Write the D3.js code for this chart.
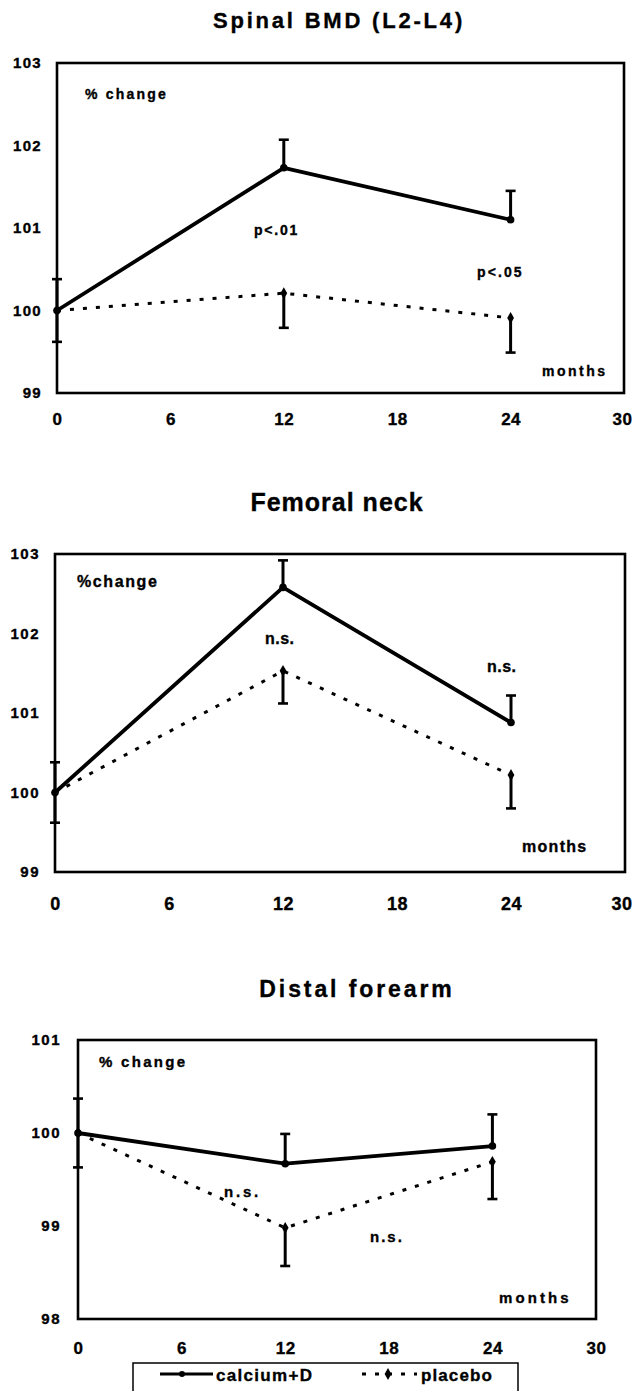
<!DOCTYPE html>
<html><head><meta charset="utf-8">
<script src="https://cdn.jsdelivr.net/npm/d3@7/dist/d3.min.js"></script>
<style>
html,body{margin:0;padding:0;background:#fff;}
svg{display:block;}
text{font-family:"Liberation Sans",Arial,sans-serif;font-weight:bold;fill:#000;stroke:#000;stroke-width:0.35px;}
</style></head>
<body>
<svg id="c" width="634" height="1391"></svg>
<script>
// ---- data ----
const months = [0, 12, 24];
const xTicks = [0, 6, 12, 18, 24, 30];
const yTicksSpine = [99, 100, 101, 102, 103];
const yTicksFemur = [99, 100, 101, 102, 103];
const yTicksForearm = [98, 99, 100, 101];

const spineCalcium = [100, 101.73, 101.10];
const spineCalciumSE = [0.38, 0.34, 0.35];
const spinePlacebo = [100, 100.21, 99.91];
const spinePlaceboSE = [0.38, 0.42, 0.42];

const femurCalcium = [100, 102.58, 100.88];
const femurCalciumSE = [0.38, 0.34, 0.34];
const femurPlacebo = [100, 101.53, 100.22];
const femurPlaceboSE = [0.38, 0.41, 0.42];

const forearmCalcium = [100, 99.67, 99.86];
const forearmCalciumSE = [0.37, 0.32, 0.34];
const forearmPlacebo = [100, 98.98, 99.69];
const forearmPlaceboSE = [0.37, 0.41, 0.40];

const seriesNames = ["calcium+D", "placebo"];

// ---- layout ----
const charts = [
  {title:"Spinal BMD (L2-L4)", titleX:339, titleY:28, titleSize:22, titleLS:2.8,
   left:57, right:624, top:63, bottom:393, yDomain:[99,103], yTicks:yTicksSpine,
   yLabSize:15, yLabLS:1.3, yLabGap:15, xLabY:425, xLabSize:17,
   calcium:spineCalcium, calciumSE:spineCalciumSE, placebo:spinePlacebo, placeboSE:spinePlaceboSE,
   notes:[{t:"% change", x:85, y:99, s:14, ls:2.2},
          {t:"p<.01", x:254, y:235, s:14, ls:1.8},
          {t:"p<.05", x:477, y:277, s:14, ls:2.1},
          {t:"months", x:542, y:376, s:14, ls:2.5}]},
  {title:"Femoral neck", titleX:337, titleY:511, titleSize:25, titleLS:1,
   left:55, right:625, top:554, bottom:872, yDomain:[99,103], yTicks:yTicksFemur,
   yLabSize:15, yLabLS:1.5, yLabGap:15, xLabY:910, xLabSize:18,
   calcium:femurCalcium, calciumSE:femurCalciumSE, placebo:femurPlacebo, placeboSE:femurPlaceboSE,
   notes:[{t:"%change", x:77, y:587, s:16, ls:1.6},
          {t:"n.s.", x:265, y:644, s:16, ls:0.5},
          {t:"n.s.", x:487, y:672, s:16, ls:0.5},
          {t:"months", x:522, y:852, s:16, ls:1.3}]},
  {title:"Distal forearm", titleX:357, titleY:997, titleSize:23, titleLS:2.9,
   left:78, right:596, top:1040, bottom:1319, yDomain:[98,101], yTicks:yTicksForearm,
   yLabSize:15, yLabLS:1.5, yLabGap:17, xLabY:1354, xLabSize:17,
   calcium:forearmCalcium, calciumSE:forearmCalciumSE, placebo:forearmPlacebo, placeboSE:forearmPlaceboSE,
   notes:[{t:"% change", x:99, y:1067, s:15, ls:2.3},
          {t:"n.s.", x:224, y:1197, s:15, ls:2.8},
          {t:"n.s.", x:370, y:1242, s:15, ls:2},
          {t:"months", x:499, y:1303, s:15, ls:3.1}]}
];

const svg = d3.select("#c");
const W = 634;
const FF = '"Liberation Sans",Arial,sans-serif';

charts.forEach(c => {
  const x = d3.scaleLinear().domain([0, 30]).range([c.left, c.right]);
  const y = d3.scaleLinear().domain(c.yDomain).range([c.bottom, c.top]);
  const g = svg.append("g");

  // title
  g.append("text").attr("x", c.titleX).attr("y", c.titleY)
    .attr("text-anchor", "middle").style("font-size", c.titleSize + "px")
    .style("letter-spacing", c.titleLS + "px").text(c.title);

  // y axis labels (no tick lines)
  const yAxis = d3.axisLeft(y).tickValues(c.yTicks).tickSize(0).tickPadding(c.yLabGap).tickFormat(d3.format("d"));
  const ya = g.append("g").attr("transform", `translate(${c.left},0)`).call(yAxis);
  ya.select(".domain").remove();
  ya.attr("font-family", null).attr("font-size", null);
  ya.selectAll("text").style("font-size", c.yLabSize + "px").style("letter-spacing", c.yLabLS + "px")
    .style("font-family", FF).attr("fill", null);

  // x axis labels
  const xAxis = d3.axisBottom(x).tickValues(xTicks).tickSize(0).tickPadding(0).tickFormat(d3.format("d"));
  const xa = g.append("g").attr("transform", `translate(0,${c.xLabY})`).call(xAxis);
  xa.select(".domain").remove();
  xa.attr("font-family", null).attr("font-size", null);
  xa.selectAll("text").attr("dy", 0).attr("y", 0).style("font-size", c.xLabSize + "px")
    .style("letter-spacing", "0.5px").style("font-family", FF).attr("fill", null);
  // keep labels inside the page
  xa.selectAll(".tick").each(function (d) {
    const t = d3.select(this).select("text");
    const bb = t.node().getBBox();
    const right = x(d) + bb.x + bb.width;
    if (right > W - 2) t.attr("x", (W - 2) - right);
  });

  // plot frame
  g.append("rect").attr("x", x(0)).attr("y", y(c.yDomain[1]))
    .attr("width", x(30) - x(0)).attr("height", y(c.yDomain[0]) - y(c.yDomain[1]))
    .attr("fill", "none").attr("stroke", "#000").attr("stroke-width", 2.6);

  const line = d3.line().x((d, i) => x(months[i])).y(d => y(d));

  // placebo dotted line
  g.append("path").datum(c.placebo).attr("d", line).attr("fill", "none")
    .attr("stroke", "#000").attr("stroke-width", 3).attr("stroke-dasharray", "4,9");
  // calcium solid line
  g.append("path").datum(c.calcium).attr("d", line).attr("fill", "none")
    .attr("stroke", "#000").attr("stroke-width", 3.8).attr("stroke-linejoin", "round");

  // error bars
  const capW = 5;
  function errBar(xv, y1, y2) {
    g.append("line").attr("x1", x(xv)).attr("x2", x(xv)).attr("y1", y(y1)).attr("y2", y(y2))
      .attr("stroke", "#000").attr("stroke-width", 3);
    g.append("line").attr("x1", x(xv) - capW).attr("x2", x(xv) + capW).attr("y1", y(y2)).attr("y2", y(y2))
      .attr("stroke", "#000").attr("stroke-width", 2.6);
  }
  errBar(months[0], c.calcium[0], c.calcium[0] + c.calciumSE[0]);
  errBar(months[0], c.calcium[0], c.calcium[0] - c.placeboSE[0]);
  for (let i = 1; i < months.length; i++) {
    errBar(months[i], c.calcium[i], c.calcium[i] + c.calciumSE[i]);
    errBar(months[i], c.placebo[i], c.placebo[i] - c.placeboSE[i]);
  }

  // markers
  g.selectAll(".mc").data(c.calcium).enter().append("circle")
    .attr("cx", (d, i) => x(months[i])).attr("cy", d => y(d)).attr("r", 3.8).attr("fill", "#000");
  g.selectAll(".mp").data(c.placebo).enter().append("path")
    .attr("transform", (d, i) => `translate(${x(months[i])},${y(d)})`)
    .attr("d", d3.symbol(d3.symbolDiamond, 40)).attr("fill", "#000");

  // annotations
  c.notes.forEach(n => {
    g.append("text").attr("x", n.x).attr("y", n.y).style("font-size", n.s + "px")
      .style("letter-spacing", n.ls + "px").text(n.t);
  });
});

// legend
const lg = svg.append("g");
lg.append("rect").attr("x", 133).attr("y", 1363).attr("width", 385).attr("height", 60)
  .attr("fill", "none").attr("stroke", "#000").attr("stroke-width", 1.5);
lg.append("line").attr("x1", 160).attr("x2", 213).attr("y1", 1374).attr("y2", 1374)
  .attr("stroke", "#000").attr("stroke-width", 3);
lg.append("circle").attr("cx", 182).attr("cy", 1374).attr("r", 3).attr("fill", "#000");
lg.append("text").attr("x", 216).attr("y", 1381).style("font-size", "17px").style("letter-spacing", "1.3px").text(seriesNames[0]);
lg.append("line").attr("x1", 362).attr("x2", 417).attr("y1", 1374).attr("y2", 1374)
  .attr("stroke", "#000").attr("stroke-width", 3).attr("stroke-dasharray", "4,9");
lg.append("path").attr("transform", "translate(388,1374)").attr("d", d3.symbol(d3.symbolDiamond, 40)).attr("fill", "#000");
lg.append("text").attr("x", 421).attr("y", 1381).style("font-size", "17px").style("letter-spacing", "1.1px").text(seriesNames[1]);
</script>
</body></html>
